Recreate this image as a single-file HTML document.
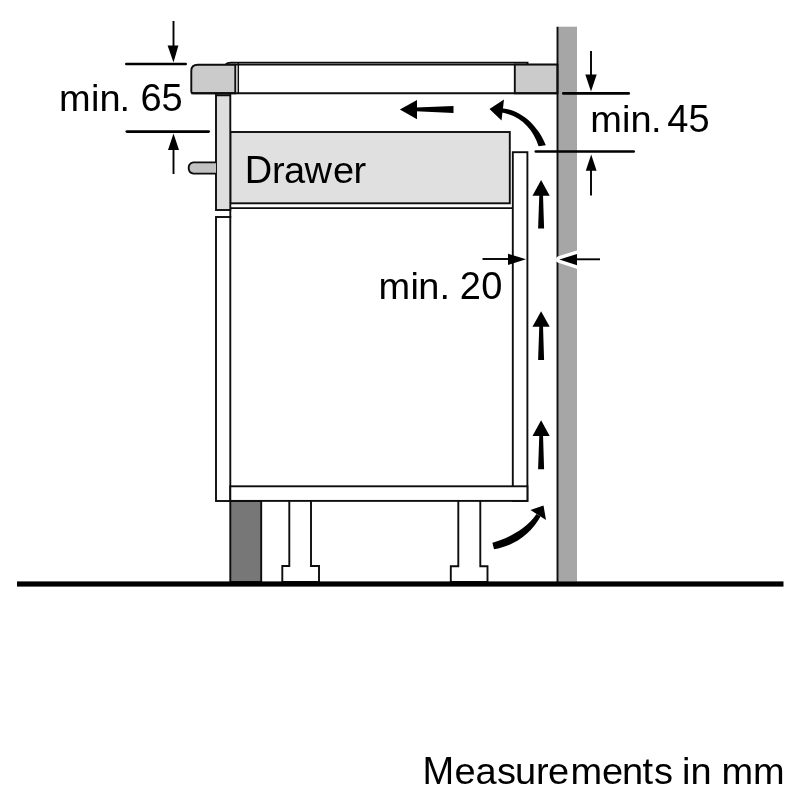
<!DOCTYPE html>
<html><head><meta charset="utf-8">
<style>
html,body{margin:0;padding:0;background:#fff;}
body{width:800px;height:800px;overflow:hidden;}
svg{display:block;will-change:transform;}
text{font-family:"Liberation Sans", sans-serif;fill:#000;}
</style></head>
<body>
<svg width="800" height="800" viewBox="0 0 800 800">
<rect x="0" y="0" width="800" height="800" fill="#fff"/>
<!-- wall fill -->
<rect x="558" y="26.7" width="19" height="555" fill="#a6a6a6"/>
<g stroke="#0d0d0d" stroke-width="1.9" fill="none">
  <!-- plinth -->
  <rect x="230.3" y="501" width="30.9" height="81" fill="#777"/>
  <!-- legs -->
  <path d="M289.3 500 L289.3 566 L282.3 566 L282.3 582 L319 582 L319 566 L311 566 L311 500" fill="#fff"/>
  <path d="M458.3 500 L458.3 566.2 L450.8 566.2 L450.8 582 L487.5 582 L487.5 566.2 L480.3 566.2 L480.3 500" fill="#fff"/>
  <!-- lower door -->
  <rect x="216" y="217" width="14.3" height="284" fill="#fff"/>
  <!-- side panel -->
  <rect x="512.8" y="152.2" width="14.6" height="348.7" fill="#fff"/>
  <!-- bottom shelf -->
  <rect x="230.3" y="486.3" width="297.1" height="14.6" fill="#fff"/>
  <!-- drawer -->
  <rect x="230.3" y="132" width="279.5" height="71.3" fill="#e0e0e0"/>
  <line x1="230.3" y1="208.1" x2="513" y2="208.1"/>
  <line x1="230.3" y1="209" x2="230.3" y2="218"/>
  <!-- front post -->
  <rect x="216" y="93.3" width="14.3" height="116.7" fill="#dedede"/>
  <line x1="216" y1="95.3" x2="230.3" y2="95.3"/>
  <!-- knob -->
  <path d="M216 162.4 L193.3 162.4 A5.7 5.7 0 0 0 193.3 173.6 L216 173.6" fill="#c2c2c2"/>
  <!-- hob glass -->
  <path d="M225.5 65 Q226.5 62.6 231 62.6 L527.5 62.6 L527.5 64.6"/>
  <line x1="226" y1="64.6" x2="557.5" y2="64.6"/>
  <!-- worktop blocks -->
  <path d="M193.3 93.3 Q191.3 93.3 191.3 91.3 L191.3 70.7 Q191.3 64.7 197.8 64.7 L235.3 64.7 L235.3 93.3 Z" fill="#cbcbcb"/>
  <line x1="238.3" y1="63" x2="238.3" y2="93.3" stroke-width="1.5"/>
  <rect x="514.8" y="64.6" width="42.7" height="28.7" fill="#cbcbcb"/>
  <line x1="191.3" y1="93.3" x2="557.5" y2="93.3"/>
  <!-- wall line -->
  <line x1="557.5" y1="26.7" x2="557.5" y2="582"/>
</g>
<!-- floor -->
<rect x="17" y="581.4" width="766.5" height="5.2" fill="#000"/>

<!-- dimension lines -->
<g stroke="#000" stroke-width="2.6" stroke-linecap="round">
  <line x1="126.3" y1="64" x2="185.7" y2="64"/>
  <line x1="126.8" y1="131.6" x2="208.7" y2="131.6"/>
  <line x1="563.3" y1="93.4" x2="628.7" y2="93.4"/>
  <line x1="535.8" y1="151.5" x2="633.7" y2="151.5"/>
</g>
<g stroke="#000" stroke-width="1.9">
  <line x1="173.5" y1="21" x2="173.5" y2="50"/>
  <line x1="173.5" y1="145" x2="173.5" y2="174"/>
  <line x1="591" y1="51" x2="591" y2="80"/>
  <line x1="591" y1="165" x2="591" y2="195.5"/>
  <line x1="482.5" y1="259" x2="512" y2="259"/>
</g>
<g fill="#000">
  <polygon points="167.6,45.6 178.4,45.6 173.5,62.5"/>
  <polygon points="168,150 179,150 173.5,133.5"/>
  <polygon points="585.3,74.5 596.7,74.5 591,91.6"/>
  <polygon points="585.8,170.8 596.6,170.8 591.2,154.6"/>
  <!-- min 20 arrows -->
  <polygon points="508,253.7 508,265 526,259.3" />
  <polygon points="577,254 577,265.3 559.4,259.5" fill="#fff" stroke="#fff" stroke-width="7" stroke-linejoin="round"/>
  <line x1="570" y1="259.3" x2="600" y2="259.3" stroke="#000" stroke-width="1.9"/>
  <polygon points="577,254 577,265.3 559.4,259.5" />
  <!-- up arrows -->
  <polygon points="532.5,195.7 549.7,195.7 541.1,180"/>
  <polygon points="539.3,195 543,195 544.1,228.6 538.1,228.6"/>
  <polygon points="532.5,326.8 549.7,326.8 541.1,311.2"/>
  <polygon points="539.3,326 543,326 544.1,360 538.1,360"/>
  <polygon points="532.5,436 549.7,436 541.1,420.2"/>
  <polygon points="539.3,435 543,435 544.1,469.3 538.1,469.3"/>
  <!-- left arrow -->
  <polygon points="399.9,109.6 417,99.9 417,119.2"/>
  <polygon points="416,107.6 453.5,106 453.5,112.9 416,111.2"/>
  <!-- curved top arrow -->
  <polygon points="489.5,109 504,99.5 501.5,120.5"/>
  <path d="M502 108.6 L503.3 108.6 C520 110 538 125 545.8 145.2 L538.6 146.3 C533 128 520 116 502 112.4 Z"/>
  <!-- curved bottom arrow -->
  <polygon points="530.5,510 543.5,505.5 546,520"/>
  <path d="M492.4 542.8 C505 539 525 531 536.5 514 L540.5 516.5 C531 534 514 546 494 549.3 Z"/>
</g>

<g font-size="38">
  <text x="140.57 161.48" y="111">65</text>
  <text transform="matrix(1 0 0 0.955 0 4.995)" x="58.98 90.96 99.48 119.53" y="111">min.</text>
  <text x="667.13 688.48" y="132">45</text>
  <text transform="matrix(1 0 0 0.955 0 5.940)" x="590.28 621.96 630.48 651.03" y="132">min.</text>
  <text x="459.79 481.22" y="298.6">20</text>
  <text transform="matrix(1 0 0 0.955 0 13.437)" x="378.58 410.46 418.38 439.43" y="298.6">min.</text>
  <text x="244.78" y="183.2">D</text>
  <text transform="matrix(1 0 0 0.955 0 8.244)" x="272.08 283.89 304.46 332.99 353.48" y="183.2">rawer</text>
  <text x="422.38" y="784">M</text>
  <text transform="matrix(1 0 0 0.955 0 35.280)" x="454.39 475.39 496.94 515.03 535.98 547.89 570.48 601.89 621.98 642.42 653.94 681.96 690.48 721.48 752.98" y="784">easurementsinmm</text>
</g>
</svg>
</body></html>
